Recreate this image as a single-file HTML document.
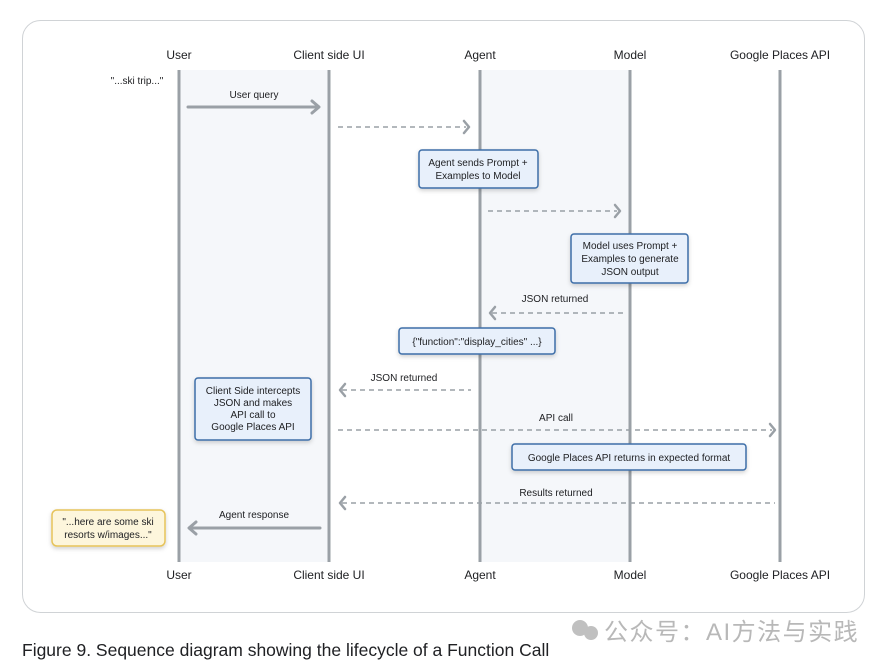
<!DOCTYPE html>
<html><head><meta charset="utf-8"><style>
html,body{margin:0;padding:0;background:#fff;}
svg{display:block;}
text{font-family:"Liberation Sans","Noto Sans CJK SC",sans-serif;}
</style></head><body>
<svg width="882" height="665" viewBox="0 0 882 665" xmlns="http://www.w3.org/2000/svg">
<defs>
<filter id="sh" x="-20%" y="-20%" width="140%" height="160%"><feDropShadow dx="0" dy="2" stdDeviation="2" flood-color="#000" flood-opacity="0.18"/></filter>
</defs>
<rect x="22.5" y="20.5" width="842" height="592" rx="18" fill="#fff" stroke="#d0d3d6" stroke-width="1"/>
<rect x="179" y="70" width="150" height="492" fill="#f5f7fa"/>
<rect x="480" y="70" width="150" height="492" fill="#f5f7fa"/>
<g stroke="#9aa0a6" stroke-width="3">
<line x1="179" y1="70" x2="179" y2="562"/>
<line x1="329" y1="70" x2="329" y2="562"/>
<line x1="480" y1="70" x2="480" y2="562"/>
<line x1="630" y1="70" x2="630" y2="562"/>
<line x1="780" y1="70" x2="780" y2="562"/>
</g>
<g font-size="12" fill="#202124" text-anchor="middle">
<text x="179" y="59">User</text><text x="329" y="59">Client side UI</text><text x="480" y="59">Agent</text><text x="630" y="59">Model</text><text x="780" y="59">Google Places API</text>
<text x="179" y="579">User</text><text x="329" y="579">Client side UI</text><text x="480" y="579">Agent</text><text x="630" y="579">Model</text><text x="780" y="579">Google Places API</text>
</g>
<g font-size="10" fill="#202124" text-anchor="middle">
<text x="137" y="84">"...ski trip..."</text>
<text x="254" y="98">User query</text>
<text x="555" y="302">JSON returned</text>
<text x="404" y="381">JSON returned</text>
<text x="556" y="421">API call</text>
<text x="556" y="496">Results returned</text>
<text x="254" y="518">Agent response</text>
</g>
<g stroke="#9aa0a6" stroke-width="3" fill="none" stroke-linecap="round" stroke-linejoin="round">
<line x1="188" y1="107" x2="318" y2="107"/><polyline points="312,101 319,107 312,113"/>
<line x1="190" y1="528" x2="320" y2="528"/><polyline points="196,522 189,528 196,534"/>
</g>
<g stroke="#9aa0a6" stroke-width="1.5" fill="none" stroke-dasharray="5,4">
<line x1="338" y1="127" x2="466" y2="127"/>
<line x1="488" y1="211" x2="617" y2="211"/>
<line x1="492" y1="313" x2="624" y2="313"/>
<line x1="342" y1="390" x2="471" y2="390"/>
<line x1="338" y1="430" x2="772" y2="430"/>
<line x1="342" y1="503" x2="775" y2="503"/>
</g>
<g stroke="#9aa0a6" stroke-width="2.5" fill="none" stroke-linecap="round" stroke-linejoin="round">
<polyline points="464,121 469,127 464,133"/>
<polyline points="615,205 620,211 615,217"/>
<polyline points="495,307 490,313 495,319"/>
<polyline points="345,384 340,390 345,396"/>
<polyline points="770,424 775,430 770,436"/>
<polyline points="345,497 340,503 345,509"/>
</g>
<g fill="#e8f0fb" stroke="#3d6ea8" stroke-width="1.5" filter="url(#sh)">
<rect x="419" y="150" width="119" height="38" rx="3"/>
<rect x="571" y="234" width="117" height="49" rx="3"/>
<rect x="399" y="328" width="156" height="26" rx="3"/>
<rect x="195" y="378" width="116" height="62" rx="3"/>
<rect x="512" y="444" width="234" height="26" rx="3"/>
</g>
<rect x="52" y="510" width="113" height="36" rx="5" fill="#fdf6dc" stroke="#e6c35a" stroke-width="1.5" filter="url(#sh)"/>
<g font-size="10" fill="#202124" text-anchor="middle">
<text x="478" y="166">Agent sends Prompt +</text><text x="478" y="179">Examples to Model</text>
<text x="630" y="249">Model uses Prompt +</text><text x="630" y="262">Examples to generate</text><text x="630" y="275">JSON output</text>
<text x="477" y="345">{"function":"display_cities" ...}</text>
<text x="253" y="394">Client Side intercepts</text><text x="253" y="406">JSON and makes</text><text x="253" y="418">API call to</text><text x="253" y="430">Google Places API</text>
<text x="629" y="461">Google Places API returns in expected format</text>
<text x="108" y="525">"...here are some ski</text><text x="108" y="538">resorts w/images..."</text>
</g>
<text x="22" y="656" font-size="17.5" fill="#202124">Figure 9. Sequence diagram showing the lifecycle of a Function Call</text>
<g fill="#c0c0c0"><circle cx="580" cy="628" r="8"/><circle cx="591" cy="633" r="7"/></g>
<text x="604" y="640" font-size="24" letter-spacing="1.5" fill="#b8b8b8">公众号：AI方法与实践</text>
</svg>
</body></html>
